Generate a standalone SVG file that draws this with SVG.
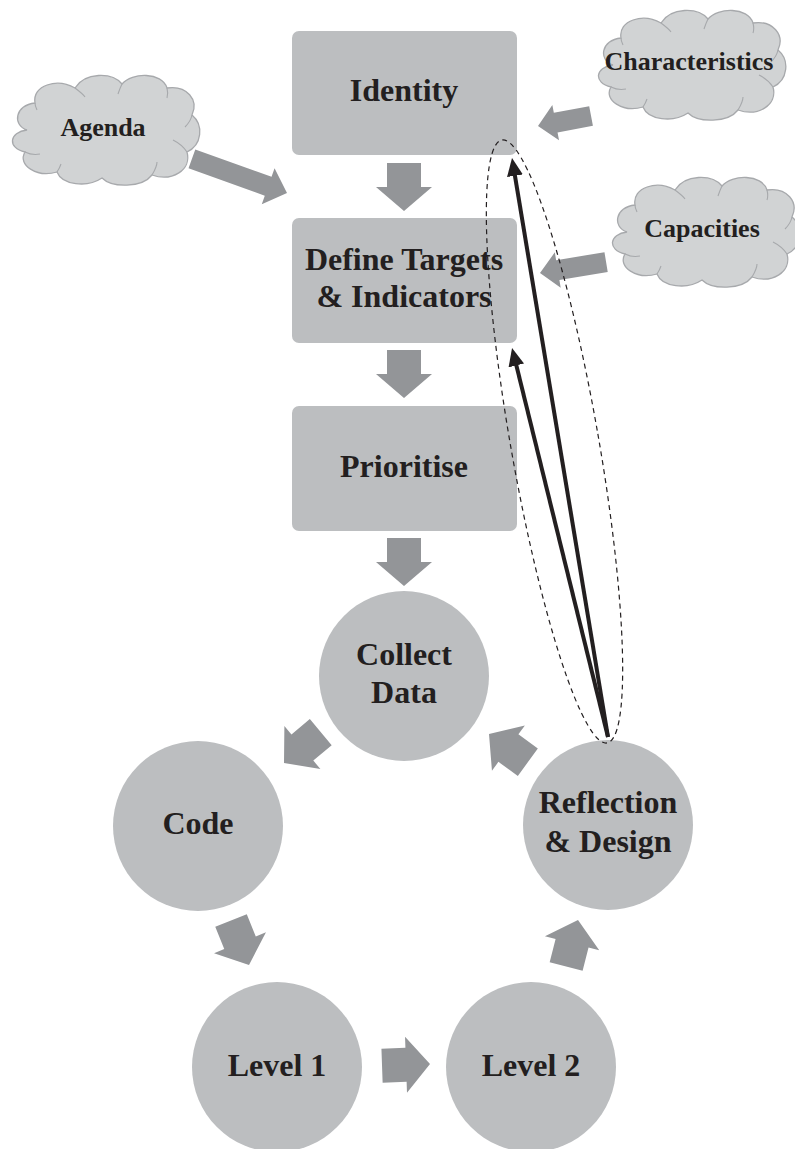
<svg xmlns="http://www.w3.org/2000/svg" xmlns:xlink="http://www.w3.org/1999/xlink" width="795" height="1149" viewBox="0 0 795 1149">
<defs>
<style>
.box{fill:#bcbec0;}
.circ{fill:#bcbec0;}
.cloud{fill:#d1d3d4;stroke:#a7a9ac;stroke-width:1.3;}
.cloudline{fill:none;stroke:#a7a9ac;stroke-width:1.1;}
.blk{fill:#939598;}
.t{font-family:"Liberation Serif","Times New Roman",serif;font-weight:bold;fill:#231f20;text-anchor:middle;}
.tb{font-size:32px;}
.tc{font-size:26px;}
.fb{fill:none;stroke:#231f20;stroke-width:4;}
.dash{fill:none;stroke:#231f20;stroke-width:1.2;stroke-dasharray:5 4;}
</style>
<path id="cloudShape" d="M20,60 C5,55 8,35 28,33 C25,15 50,8 68,18 C78,2 105,2 115,14 C125,2 155,2 160,18 C180,15 192,30 185,45 C197,55 195,75 180,82 C185,100 165,112 145,105 C135,118 105,118 95,108 C80,118 55,115 50,102 C30,108 10,95 18,82 C0,78 2,62 20,60 Z"/>
<path id="cloudInner" d="M18,82 C22,84 28,85 33,84 M50,102 C52,99 53,97 54,94 M145,105 C148,100 150,96 150,92 M180,82 C176,76 170,72 166,70 M185,45 C184,50 181,54 178,57 M160,18 C161,22 161,25 160,28 M115,14 C113,18 112,21 111,24 M68,18 C72,21 76,24 78,27 M28,33 C28,36 29,38 30,40"/>
<polygon id="bigArrow" points="-48,-17 -24,-17 -24,-28 0,0 -24,28 -24,17 -48,17"/>
<marker id="ah" markerUnits="userSpaceOnUse" markerWidth="18" markerHeight="16" viewBox="0 0 18 16" refX="4" refY="8" orient="auto">
<path d="M0,0 L18,8 L0,16 Z" fill="#231f20"/>
</marker>
</defs>

<g id="node-agenda">
<use xlink:href="#cloudShape" class="cloud" transform="translate(7,70)"/>
<use xlink:href="#cloudInner" class="cloudline" transform="translate(7,70)"/>
<text class="t tc" x="103" y="136">Agenda</text>
</g>
<g id="node-characteristics">
<use xlink:href="#cloudShape" class="cloud" transform="translate(593,5)"/>
<use xlink:href="#cloudInner" class="cloudline" transform="translate(593,5)"/>
<text class="t tc" x="689" y="70">Characteristics</text>
</g>
<g id="node-capacities">
<use xlink:href="#cloudShape" class="cloud" transform="translate(607,172)"/>
<use xlink:href="#cloudInner" class="cloudline" transform="translate(607,172)"/>
<text class="t tc" x="702" y="237">Capacities</text>
</g>

<g id="node-identity">
<rect class="box" x="292" y="31" width="225" height="124" rx="7"/>
<text class="t tb" x="404" y="101">Identity</text>
</g>
<g id="node-define">
<rect class="box" x="292" y="218" width="225" height="125" rx="7"/>
<text class="t tb" x="404" y="270">Define Targets</text>
<text class="t tb" x="404" y="307">&amp; Indicators</text>
</g>
<g id="node-prioritise">
<rect class="box" x="292" y="406" width="225" height="125" rx="7"/>
<text class="t tb" x="404" y="477">Prioritise</text>
</g>
<g id="node-collect">
<circle class="circ" cx="404" cy="676" r="85"/>
<text class="t tb" x="404" y="665">Collect</text>
<text class="t tb" x="404" y="703">Data</text>
</g>
<g id="node-code">
<circle class="circ" cx="198" cy="826" r="85"/>
<text class="t tb" x="198" y="834">Code</text>
</g>
<g id="node-reflection">
<circle class="circ" cx="608" cy="825" r="85"/>
<text class="t tb" x="608" y="813">Reflection</text>
<text class="t tb" x="608" y="852">&amp; Design</text>
</g>
<g id="node-level1">
<circle class="circ" cx="277" cy="1067" r="85"/>
<text class="t tb" x="277" y="1076">Level 1</text>
</g>
<g id="node-level2">
<circle class="circ" cx="531" cy="1067" r="85"/>
<text class="t tb" x="531" y="1076">Level 2</text>
</g>

<g id="connectors">
<polygon class="blk" transform="translate(287,193) rotate(19.7)" points="-101,-10 -20,-10 -20,-19 0,0 -20,19 -20,10 -101,10"/>
<polygon class="blk" transform="translate(538,126) rotate(169.3)" points="-54,-10 -18,-10 -18,-18 0,0 -18,18 -18,10 -54,10"/>
<polygon class="blk" transform="translate(540,273) rotate(170.6)" points="-67,-10 -18,-10 -18,-18 0,0 -18,18 -18,10 -67,10"/>
<use xlink:href="#bigArrow" class="blk" transform="translate(404,211) rotate(90)"/>
<use xlink:href="#bigArrow" class="blk" transform="translate(404,398) rotate(90)"/>
<use xlink:href="#bigArrow" class="blk" transform="translate(404,586) rotate(90)"/>
<use xlink:href="#bigArrow" class="blk" transform="translate(284,763) rotate(140)"/>
<use xlink:href="#bigArrow" class="blk" transform="translate(249,965) rotate(68)"/>
<use xlink:href="#bigArrow" class="blk" transform="translate(430,1064) rotate(-2)"/>
<use xlink:href="#bigArrow" class="blk" transform="translate(578,920) rotate(-75.7)"/>
<use xlink:href="#bigArrow" class="blk" transform="translate(489,734) rotate(216)"/>
<line class="fb" x1="608" y1="737" x2="514.3" y2="171.8" marker-end="url(#ah)"/>
<line class="fb" x1="608" y1="737" x2="515.4" y2="361.6" marker-end="url(#ah)"/>
<ellipse class="dash" cx="554.5" cy="441.5" rx="44" ry="306" transform="rotate(-9.9 554.5 441.5)"/>
</g>
</svg>
